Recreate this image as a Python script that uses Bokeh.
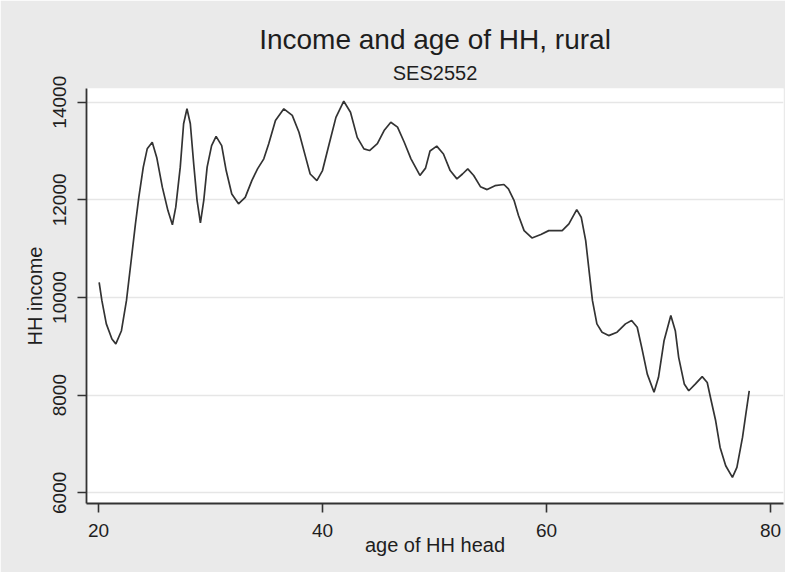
from bokeh.plotting import figure
from bokeh.models import Title, FixedTicker, Range1d
from bokeh.embed import file_html
from bokeh.resources import INLINE

TITLE = "Income and age of HH, rural"
SUBTITLE = "SES2552"
X_LABEL = "age of HH head"
Y_LABEL = "HH income"
X_TICKS = [20, 40, 60, 80]
Y_TICKS = [6000, 8000, 10000, 12000, 14000]

age = [20.06, 20.3, 20.7, 21.2, 21.55, 22.05, 22.5, 22.95, 23.3, 23.6, 24.0, 24.35,
       24.8, 25.2, 25.7, 26.2, 26.6, 26.9, 27.3, 27.6, 27.9, 28.2, 28.5, 28.8, 29.1,
       29.4, 29.7, 30.1, 30.5, 31.0, 31.4, 31.9, 32.5, 33.1, 33.7, 34.2, 34.76, 35.2,
       35.8, 36.55, 37.3, 37.9, 38.5, 38.9, 39.5, 40.0, 40.6, 41.2, 41.9, 42.5, 43.1,
       43.7, 44.2, 44.9, 45.5, 46.1, 46.7, 47.3, 47.9, 48.7, 49.2, 49.6, 50.2, 50.8,
       51.4, 52.0, 52.5, 52.97, 53.5, 54.1, 54.7, 55.4, 56.2, 56.6, 57.1, 57.5, 58.0,
       58.7, 59.5, 60.2, 61.4, 62.0, 62.7, 63.1, 63.5, 63.8, 64.1, 64.5, 64.96, 65.55,
       66.3, 67.05, 67.6, 68.1, 68.5, 69.0, 69.6, 70.0, 70.5, 71.1, 71.5, 71.8, 72.3,
       72.7, 73.3, 73.9, 74.35, 74.7, 75.1, 75.5, 76.0, 76.6, 77.0, 77.5, 77.8, 78.1]

income = [10310, 9940, 9460, 9150, 9050, 9320, 9940, 10820, 11510, 12050, 12670, 13045,
          13180, 12870, 12260, 11780, 11490, 11850, 12670, 13560, 13865, 13560, 12740, 11990, 11530,
          11990, 12670, 13110, 13300, 13110, 12600, 12120, 11920, 12050, 12400, 12635, 12840, 13150,
          13625, 13865, 13730, 13385, 12870, 12530, 12395, 12600, 13150, 13690, 14020, 13795, 13280,
          13045, 13010, 13150, 13420, 13590, 13490, 13180, 12840, 12500, 12650, 13000, 13100, 12940,
          12600, 12430, 12530, 12635, 12500, 12270, 12210, 12290, 12315, 12225, 11990, 11680, 11370,
          11220, 11290, 11370, 11370, 11510, 11800, 11645, 11165, 10550, 9940, 9460, 9290, 9220,
          9290, 9460, 9530, 9390, 8980, 8430, 8060, 8365, 9120, 9630, 9320, 8775, 8230,
          8090, 8230, 8380, 8260, 7890, 7480, 6930, 6555, 6315, 6520, 7135, 7615, 8090]

FONT = "Liberation Sans"
BG = "#EAEAEA"
INK = "#1E1E1E"

p = figure(width=785, height=572, output_backend="svg", toolbar_location=None,
           x_range=Range1d(18.93, 81.16), y_range=Range1d(5781, 14281),
           min_border_left=86, min_border_right=2, min_border_top=88, min_border_bottom=69,
           background_fill_color="white", border_fill_color=BG, outline_line_color=None)

# main title outermost, subtitle nearest the frame
p.title.text = TITLE
p.title.align = "center"
p.title.text_font = FONT
p.title.text_font_size = "28px"
p.title.text_font_style = "normal"
p.title.text_color = INK
p.title.standoff = 0
p.add_layout(Title(text=SUBTITLE, align="center", text_font=FONT, text_font_size="20px",
                   text_font_style="normal", text_color=INK, standoff=10), "above")

p.line(age, income, line_color="#333333", line_width=1.7)

# axes
for ax in (p.xaxis[0], p.yaxis[0]):
    ax.axis_line_color = "#333333"
    ax.axis_line_width = 1.8
    ax.major_tick_line_color = "#333333"
    ax.major_tick_line_width = 1.6
    ax.major_tick_out = 9
    ax.major_tick_in = 0
    ax.minor_tick_line_color = None
    ax.major_label_text_font = FONT
    ax.major_label_text_font_size = "19px"
    ax.major_label_text_color = INK
    ax.axis_label_text_font = FONT
    ax.axis_label_text_font_size = "20px"
    ax.axis_label_text_font_style = "normal"
    ax.axis_label_text_color = INK

p.xaxis.ticker = FixedTicker(ticks=X_TICKS)
p.yaxis.ticker = FixedTicker(ticks=Y_TICKS)
p.xaxis.axis_label = X_LABEL
p.yaxis.axis_label = Y_LABEL
p.xaxis.major_label_standoff = 11
p.xaxis.axis_label_standoff = -6
p.yaxis.major_label_standoff = 11
p.yaxis.axis_label_standoff = 5
p.yaxis.major_label_orientation = "vertical"

p.xgrid.grid_line_color = None
p.ygrid.grid_line_color = "#E6E6E6"
p.ygrid.grid_line_width = 1.5

open("out.html", "w").write(file_html(p, INLINE))
